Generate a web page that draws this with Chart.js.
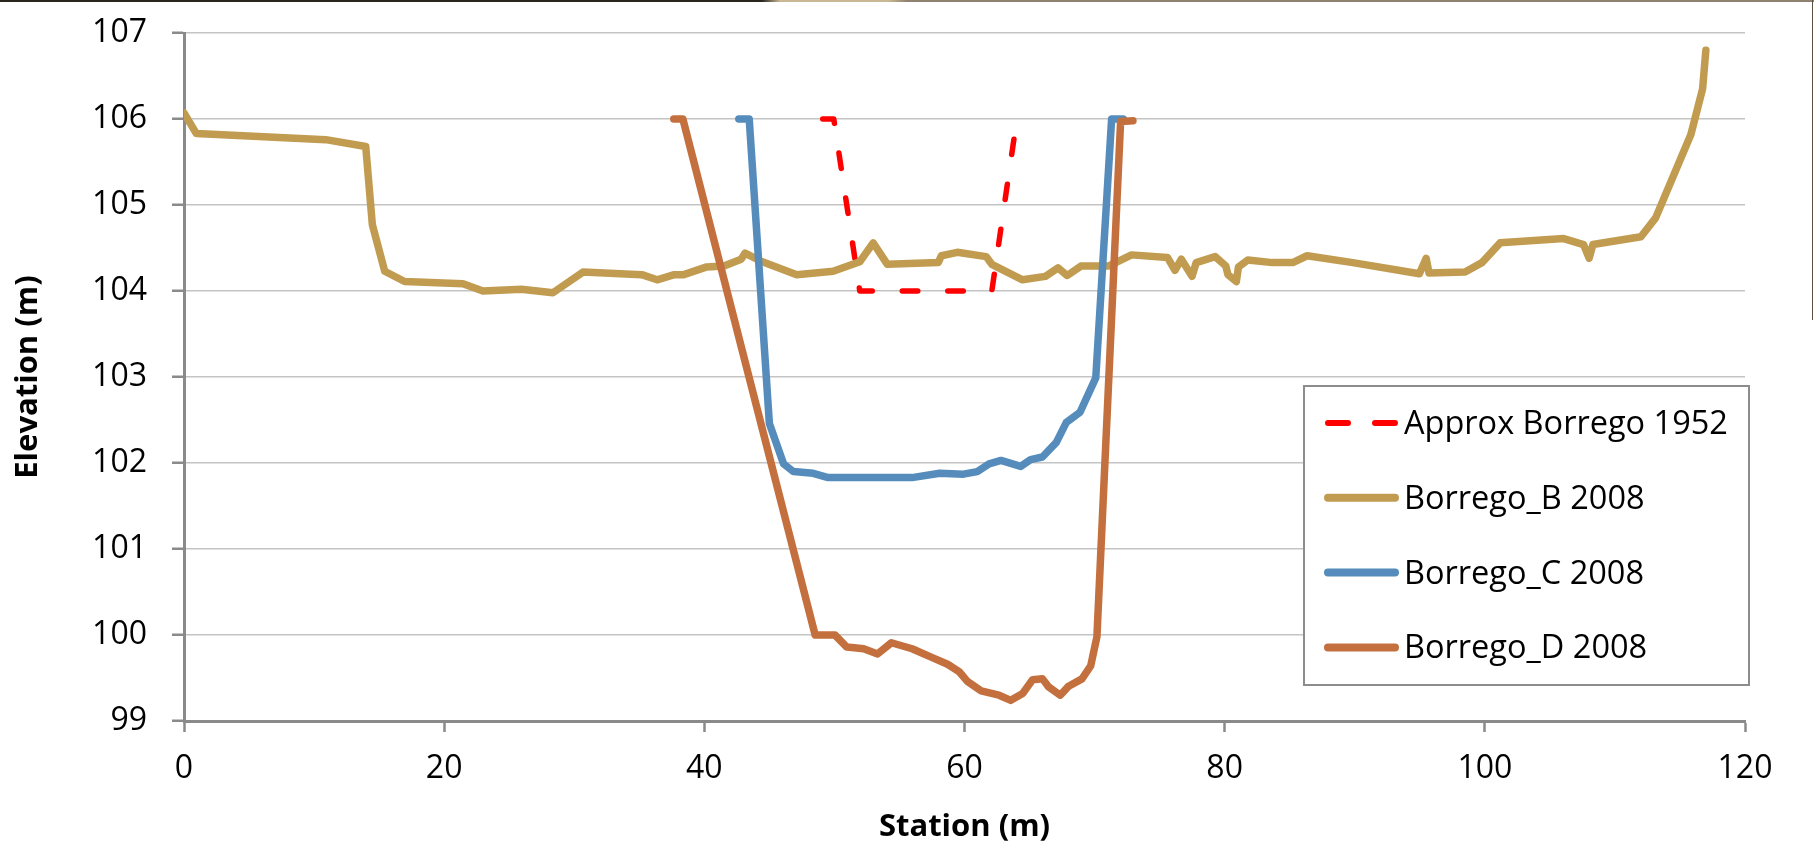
<!DOCTYPE html>
<html>
<head>
<meta charset="utf-8">
<title>Borrego cross sections</title>
<script src="https://cdn.jsdelivr.net/npm/chart.js@4.4.1/dist/chart.umd.min.js"></script>
<style>
  html, body { margin: 0; padding: 0; background: #fff; }
  #wrap { position: relative; width: 1814px; height: 846px; overflow: hidden; }
  #edgeTop { position: absolute; left: 0; top: 0; width: 100%; height: 2px;
    background: linear-gradient(to right, #2a251f 0, #2a251f 42%, #c8b894 43%, #c8b894 49%, #8f8270 50%, #8f8270 100%); }
  #edgeRight { position: absolute; left: 1812px; top: 0; width: 1px; height: 320px; background: #5a5144; }
</style>
</head>
<body>
<div id="wrap">
  <canvas id="chart" width="1814" height="846"></canvas>
  <div id="edgeTop"></div>
  <div id="edgeRight"></div>
</div>
<script>
const seriesNames = ['Approx Borrego 1952', 'Borrego_B 2008', 'Borrego_C 2008', 'Borrego_D 2008'];

// approximate 1952 channel
const station1952 = [49.1, 49.95, 51.95, 62.1, 63.9];
const elev1952 = [106.0, 106.0, 104.0, 104.0, 105.87];

// section B
const stationB = [0, 0.95, 10.9, 13.97, 14.48, 15.43, 16.96, 21.45, 22.98, 25.93, 28.36, 30.67,
  35.19, 36.37, 37.69, 38.42, 40.19, 41.51, 42.83, 43.13, 44.31, 47.1, 49.9, 51.95, 52.98, 54.07,
  57.98, 58.22, 59.45, 61.66, 62.1, 64.46, 66.22, 67.19, 67.9, 68.95, 71.07, 72.84, 75.6, 76.18,
  76.67, 77.49, 77.81, 79.27, 80.09, 80.25, 80.9, 81.06, 81.78, 83.67, 85.23, 86.34, 89.85, 94.97,
  95.49, 95.71, 98.48, 99.78, 101.18, 106.06, 107.59, 108.02, 108.31, 112.0, 113.13, 115.84, 116.74, 116.99];
const elevB = [106.07, 105.83, 105.76, 105.68, 104.77, 104.23, 104.11, 104.085, 104.0, 104.02, 103.98, 104.22,
  104.19, 104.13, 104.19, 104.19, 104.28, 104.29, 104.37, 104.44, 104.35, 104.19, 104.23, 104.34, 104.56, 104.31,
  104.33, 104.41, 104.45, 104.40, 104.31, 104.13, 104.17, 104.27, 104.18, 104.29, 104.29, 104.42, 104.39, 104.24,
  104.37, 104.17, 104.33, 104.40, 104.29, 104.19, 104.11, 104.28, 104.36, 104.33, 104.33, 104.41, 104.33, 104.2,
  104.38, 104.21, 104.22, 104.33, 104.56, 104.61, 104.54, 104.38, 104.54, 104.63, 104.85, 105.82, 106.35, 106.8];

// section C
const stationC = [42.65, 43.45, 45.0, 46.09, 46.85, 48.37, 49.52, 55.97, 58.09, 59.92, 60.98, 61.89,
  62.8, 64.32, 65.08, 65.99, 67.06, 67.82, 68.88, 70.09, 71.31, 72.2];
const elevC = [106.0, 106.0, 102.46, 101.99, 101.9, 101.88, 101.83, 101.83, 101.88, 101.87, 101.9, 101.99,
  102.03, 101.96, 102.04, 102.07, 102.24, 102.47, 102.59, 102.99, 106.0, 106.0];

// section D
const stationD = [37.65, 38.35, 48.52, 50.04, 50.95, 52.25, 53.32, 54.38, 55.97, 57.48, 58.7, 59.61,
  60.22, 61.28, 62.65, 63.56, 64.47, 65.23, 66.0, 66.44, 67.36, 67.97, 69.03, 69.7, 70.18, 72.0, 72.95];
const elevD = [106.0, 106.0, 100.0, 100.0, 99.86, 99.84, 99.78, 99.91, 99.84, 99.74, 99.66, 99.57,
  99.46, 99.35, 99.30, 99.24, 99.32, 99.48, 99.49, 99.40, 99.30, 99.40, 99.49, 99.64, 99.98, 105.97, 105.98];

const xTicks = [0, 20, 40, 60, 80, 100, 120];
const yTicks = [99, 100, 101, 102, 103, 104, 105, 106, 107];

const toPoints = (xs, ys) => xs.map((x, i) => ({ x: x, y: ys[i] }));

const lineBase = { showLine: true, pointRadius: 0, pointHoverRadius: 0, borderCapStyle: 'round', borderJoinStyle: 'round', tension: 0, fill: false };

const datasets = [
  { ...lineBase, label: seriesNames[0], data: toPoints(station1952, elev1952), borderColor: '#FF0000', borderWidth: 5.5, borderDash: [15.5, 30], order: 3 },
  { ...lineBase, label: seriesNames[1], data: toPoints(stationB, elevB), borderColor: '#C19C50', borderWidth: 7.5, order: 2 },
  { ...lineBase, label: seriesNames[2], data: toPoints(stationC, elevC), borderColor: '#558CBC', borderWidth: 7.5, order: 1 },
  { ...lineBase, label: seriesNames[3], data: toPoints(stationD, elevD), borderColor: '#C4703E', borderWidth: 7.5, order: 0 }
];

// boxed legend sitting inside the plot, lower right
const boxLegend = {
  id: 'boxLegend',
  afterDraw(chart, args, opts) {
    const ctx = chart.ctx;
    ctx.save();
    ctx.fillStyle = '#fff';
    ctx.fillRect(opts.left, opts.top, opts.width, opts.height);
    ctx.strokeStyle = '#8c8c8c';
    ctx.lineWidth = 2;
    ctx.strokeRect(opts.left, opts.top, opts.width, opts.height);
    ctx.font = '32.5px "Open Sans"';
    ctx.textBaseline = 'alphabetic';
    ctx.textAlign = 'left';
    chart.data.datasets.forEach((ds, i) => {
      const y = opts.firstRow + i * opts.rowGap;
      ctx.beginPath();
      ctx.lineCap = 'round';
      ctx.strokeStyle = ds.borderColor;
      ctx.lineWidth = ds.borderDash ? 6 : 8;
      ctx.setLineDash(ds.borderDash ? [20, 27] : []);
      ctx.moveTo(opts.left + 24, y);
      ctx.lineTo(opts.left + 91, y);
      ctx.stroke();
      ctx.setLineDash([]);
      ctx.fillStyle = '#000';
      ctx.fillText(ds.label, opts.left + 100, y + 11);
    });
    ctx.restore();
  }
};

new Chart(document.getElementById('chart'), {
  type: 'scatter',
  data: { datasets: datasets },
  options: {
    responsive: false,
    animation: false,
    events: [],
    layout: { padding: { top: 33, right: 69, left: 0, bottom: 0 } },
    plugins: {
      legend: { display: false },
      tooltip: { enabled: false },
      boxLegend: { left: 1304, top: 386, width: 445, height: 299, firstRow: 423, rowGap: 74.8 }
    },
    scales: {
      x: {
        type: 'linear',
        min: 0,
        max: 120,
        afterBuildTicks: s => { s.ticks = xTicks.map(v => ({ value: v })); },
        afterFit: s => { s.height = 125; s.paddingLeft = 0; s.paddingRight = 0; },
        ticks: { color: '#000', font: { family: 'Open Sans', size: 32 }, padding: 18, maxRotation: 0 },
        grid: { drawOnChartArea: false, drawTicks: true, tickLength: 11, tickColor: '#8a8a8a', tickWidth: 2.5 },
        border: { color: '#8a8a8a', width: 3 },
        title: { display: true, text: 'Station (m)', color: '#000', font: { family: 'Open Sans', size: 31, weight: 'bold' }, padding: { top: 0, bottom: 0 } }
      },
      y: {
        type: 'linear',
        min: 99,
        max: 107,
        afterBuildTicks: s => { s.ticks = yTicks.map(v => ({ value: v })); },
        // keep the label overhang from pushing the plot down
        afterFit: s => { s.width = 184; s.paddingTop = 0; s.paddingBottom = 0; },
        ticks: { color: '#000', font: { family: 'Open Sans', size: 32 }, padding: 25 },
        grid: { color: '#c4c4c4', lineWidth: 1.5, tickLength: 12, tickColor: '#8a8a8a', tickWidth: 2.5 },
        border: { color: '#8a8a8a', width: 3 },
        title: { display: true, text: 'Elevation (m)', color: '#000', font: { family: 'Open Sans', size: 31, weight: 'bold' }, padding: { top: 10, bottom: 0 } }
      }
    }
  },
  plugins: [boxLegend]
});
</script>
</body>
</html>
